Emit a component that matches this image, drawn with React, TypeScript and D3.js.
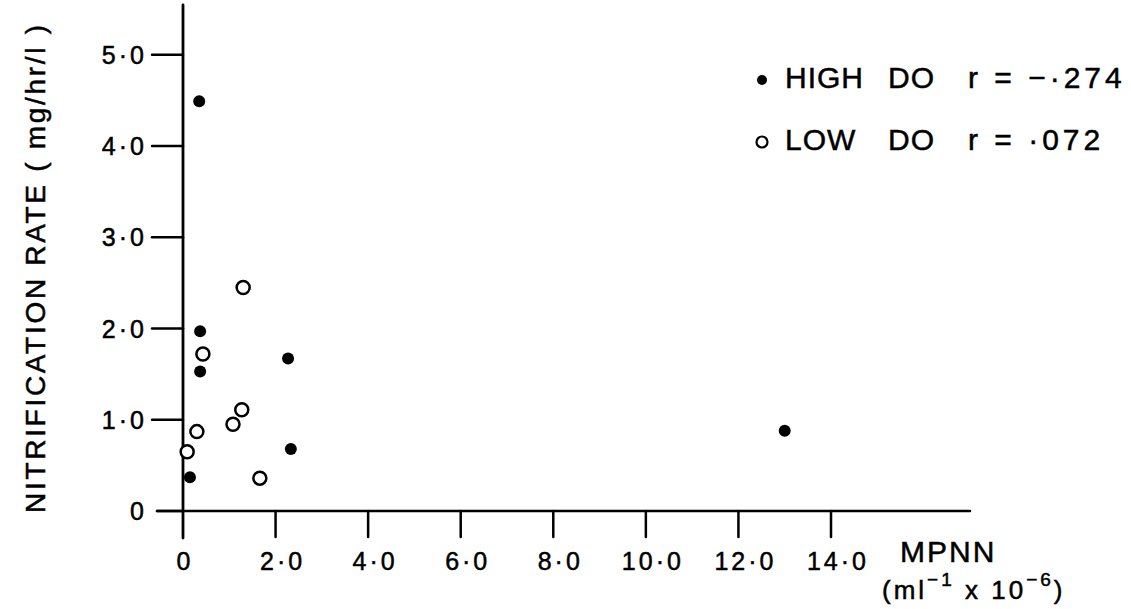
import React, { useRef, useEffect } from 'react';
import * as d3 from 'd3';

// values
const highDoX = [0.35, 0.37, 0.37, 2.27, 2.33, 0.15, 13.0];
const highDoY = [4.49, 1.97, 1.53, 1.67, 0.68, 0.37, 0.88];
const lowDoX = [1.3, 0.43, 1.27, 1.08, 0.3, 0.09, 1.66];
const lowDoY = [2.45, 1.72, 1.11, 0.95, 0.87, 0.65, 0.36];

const xTicks = [0, 2, 4, 6, 8, 10, 12, 14];
const xTickLabels = ['0', '2·0', '4·0', '6·0', '8·0', '10·0', '12·0', '14·0'];
const yTicks = [0, 1, 2, 3, 4, 5];
const yTickLabels = ['0', '1·0', '2·0', '3·0', '4·0', '5·0'];

const WIDTH = 1131;
const HEIGHT = 609;
const FONT = '"Liberation Sans", Arial, sans-serif';

const App = () => {
  const svgRef = useRef<SVGSVGElement>(null);

  useEffect(() => {
    const svg = d3.select(svgRef.current);
    svg.selectAll('*').remove();

    const x = d3.scaleLinear().domain([0, 14]).range([183, 831]);
    const y = d3.scaleLinear().domain([0, 4]).range([511, 146]);

    const g = svg.append('g')
      .attr('stroke-linecap', 'round')
      .style('font-family', FONT);

    // text gets a thin stroke so it reads like the inked lettering
    const label = (sel) => sel.attr('fill', '#000').attr('stroke', '#000').attr('stroke-width', 0.5);

    // axis lines
    g.append('line')
      .attr('x1', 157).attr('x2', 970)
      .attr('y1', y(0)).attr('y2', y(0))
      .attr('stroke', '#000').attr('stroke-width', 2.5);
    g.append('line')
      .attr('x1', x(0)).attr('x2', x(0))
      .attr('y1', 5).attr('y2', 538)
      .attr('stroke', '#000').attr('stroke-width', 2.8);

    // x ticks
    xTicks.forEach((t, i) => {
      if (t !== 0) {
        g.append('line')
          .attr('x1', x(t)).attr('x2', x(t))
          .attr('y1', y(0)).attr('y2', y(0) + 26)
          .attr('stroke', '#000').attr('stroke-width', 2.5);
      }
      g.append('text')
        .attr('x', x(t) + (t === 0 ? 2 : 7))
        .attr('y', 570)
        .attr('text-anchor', 'middle')
        .style('font-size', '25px')
        .style('letter-spacing', '3px')
        .call(label)
        .text(xTickLabels[i]);
    });

    // y ticks
    yTicks.forEach((t, i) => {
      g.append('line')
        .attr('x1', t === 0 ? 157 : 152).attr('x2', x(0))
        .attr('y1', y(t)).attr('y2', y(t))
        .attr('stroke', '#000').attr('stroke-width', 2.5);
      g.append('text')
        .attr('x', 147)
        .attr('y', y(t) + 9)
        .attr('text-anchor', 'end')
        .style('font-size', '25px')
        .style('letter-spacing', '3px')
        .call(label)
        .text(yTickLabels[i]);
    });

    // y title
    g.append('text')
      .attr('transform', 'translate(45,513) rotate(-90)')
      .attr('text-anchor', 'start')
      .attr('textLength', 488)
      .attr('lengthAdjust', 'spacing')
      .style('font-size', '28px')
      .call(label)
      .text('NITRIFICATION RATE ( mg/hr/l )');

    // x title
    g.append('text')
      .attr('x', 900).attr('y', 562)
      .style('font-size', '30px')
      .style('letter-spacing', '2px')
      .call(label)
      .text('MPNN');
    const sub = g.append('text')
      .attr('x', 882).attr('y', 599)
      .style('font-size', '26px')
      .style('letter-spacing', '3px')
      .call(label);
    sub.append('tspan').text('(ml');
    sub.append('tspan').attr('dy', -13).style('font-size', '19px').text('−1');
    sub.append('tspan').attr('dy', 13).text(' x 10');
    sub.append('tspan').attr('dy', -13).style('font-size', '19px').text('−6');
    sub.append('tspan').attr('dy', 13).text(')');

    // points
    highDoX.forEach((v, i) => {
      g.append('circle')
        .attr('cx', x(v)).attr('cy', y(highDoY[i]))
        .attr('r', 6)
        .attr('fill', '#000');
    });
    lowDoX.forEach((v, i) => {
      g.append('circle')
        .attr('cx', x(v)).attr('cy', y(lowDoY[i]))
        .attr('r', 6.5)
        .attr('fill', '#fff')
        .attr('stroke', '#000')
        .attr('stroke-width', 2.5);
    });

    // legend
    const legendRows = [
      { y: 88, filled: true, words: ['HIGH', 'DO', 'r = −·274'] },
      { y: 150, filled: false, words: ['LOW', 'DO', 'r = ·072'] }
    ];
    const wordX = [785, 888, 968];
    legendRows.forEach(row => {
      g.append('circle')
        .attr('cx', 762).attr('cy', row.y - 8)
        .attr('r', row.filled ? 5 : 5.5)
        .attr('fill', row.filled ? '#000' : '#fff')
        .attr('stroke', '#000')
        .attr('stroke-width', row.filled ? 0 : 2.2);
      row.words.forEach((w, i) => {
        g.append('text')
          .attr('x', wordX[i]).attr('y', row.y)
          .style('font-size', '30px')
          .style('letter-spacing', i === 2 ? '4px' : '1px')
          .call(label)
          .text(w);
      });
    });
  }, []);

  return (
    <div style={{ position: 'absolute', left: 0, top: 0, width: WIDTH, height: HEIGHT, background: '#fff' }}>
      <svg ref={svgRef} width={WIDTH} height={HEIGHT} style={{ display: 'block' }} />
    </div>
  );
};

export default App;
